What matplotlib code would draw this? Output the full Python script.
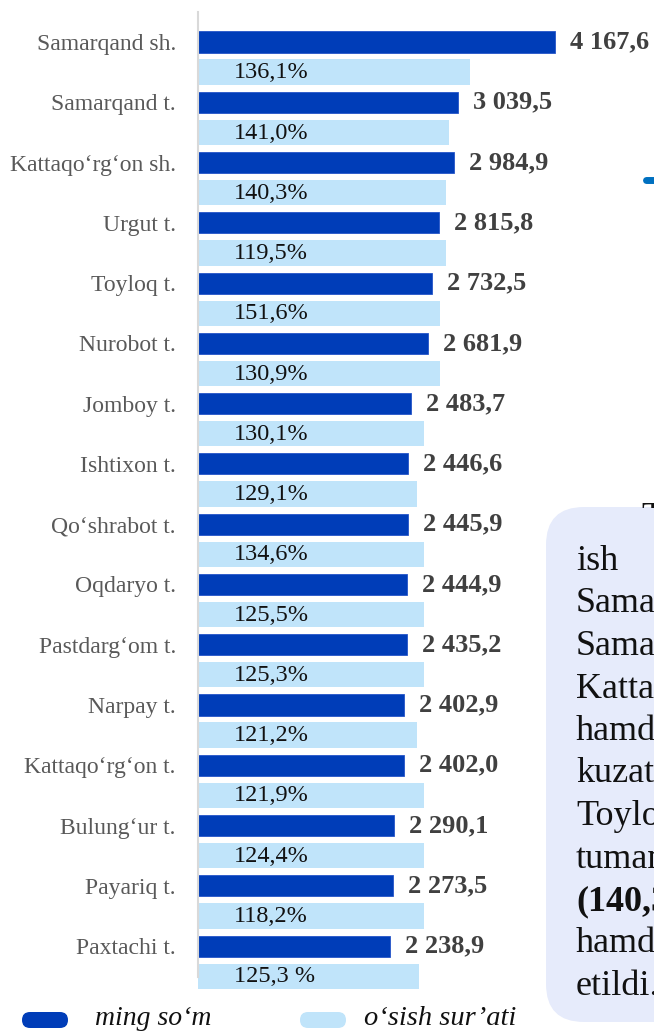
import matplotlib
matplotlib.use("Agg")
import matplotlib.pyplot as plt
from matplotlib.patches import FancyBboxPatch
from matplotlib.lines import Line2D
from matplotlib.transforms import IdentityTransform, Bbox
import numpy as np

plt.rcParams['font.family'] = ['Liberation Serif', 'DejaVu Serif']

# data
districts = ["Samarqand sh.", "Samarqand t.", "Kattaqo‘rg‘on sh.", "Urgut t.",
             "Toyloq t.", "Nurobot t.", "Jomboy t.", "Ishtixon t.",
             "Qo‘shrabot t.", "Oqdaryo t.", "Pastdarg‘om t.", "Narpay t.",
             "Kattaqo‘rg‘on t.", "Bulung‘ur t.", "Payariq t.", "Paxtachi t."]
ming_som = [4167.6, 3039.5, 2984.9, 2815.8, 2732.5, 2681.9, 2483.7, 2446.6,
            2445.9, 2444.9, 2435.2, 2402.9, 2402.0, 2290.1, 2273.5, 2238.9]
growth_labels = ["136,1%", "141,0%", "140,3%", "119,5%", "151,6%", "130,9%",
                 "130,1%", "129,1%", "134,6%", "125,5%", "125,3%", "121,2%",
                 "121,9%", "124,4%", "118,2%", "125,3 %"]
# the light bars in the source are not proportional to the %, lengths read off the image
growth_bar_len = [3175, 2930, 2895, 2895, 2825, 2825, 2638, 2557,
                  2638, 2638, 2638, 2557, 2638, 2638, 2638, 2580]

legend_labels = ["ming so‘m", "o‘sish sur’ati"]
box_lines = ["ish", "Samarqand", "Samarqand", "Kattaqo‘rg‘on", "hamda",
             "kuzatildi.", "Toyloq", "tumanlarida", "(140,3%)", "hamda", "etildi."]

DARK = '#003DB8'
LIGHT = '#C0E4FA'

W, H = 654, 1031
fig = plt.figure(figsize=(W / 100, H / 100), dpi=100)

# axes placed in pixels: x axis starts at 198 px, rows every ~60.3 px
px_per_unit = 0.08566
row0, row_step = 42, 60.27
top_px, bot_px = 12, 990
ax = fig.add_axes([198 / W, (H - bot_px) / H, (W - 198) / W, (bot_px - top_px) / H])
ax.set_xlim(0, (W - 198) / px_per_unit)
ax.set_ylim((bot_px - row0) / row_step, (top_px - row0) / row_step)

y = np.arange(len(districts))
ax.barh(y, ming_som, height=0.35, color=DARK, edgecolor='#2555c8', linewidth=0.6, zorder=2)
ax.barh(y + 0.5, growth_bar_len, height=0.42, color=LIGHT, linewidth=0, zorder=2)

for i in range(len(districts)):
    val = f"{ming_som[i]:,.1f}".replace(",", " ").replace(".", ",")
    ax.text(ming_som[i] + 15 / px_per_unit, y[i], val, ha='left', va='center',
            fontsize=19, fontweight='bold', color='#404040')
    ax.text(36 / px_per_unit, y[i] + 0.51, growth_labels[i], ha='left', va='center',
            fontsize=17.5, color='#111111', zorder=3)

ax.set_yticks(y)
ax.set_yticklabels(districts, fontsize=17, color='#595959')
ax.tick_params(axis='y', length=0, pad=16)
ax.set_xticks([])
for s in ax.spines.values():
    s.set_visible(False)
ax.plot([0, 0], [(top_px - row0) / row_step, 15.51], color='#D9D9D9', lw=1.5,
        zorder=4, clip_on=False)

# legend drawn by hand (rounded pills)
px = IdentityTransform()
for x0, col, tx, lab, fs in [(22, DARK, 95, legend_labels[0], 20),
                             (300, LIGHT, 364, legend_labels[1], 20.5)]:
    fig.add_artist(FancyBboxPatch((x0, H - 1028), 46, 16,
                                  boxstyle="round,pad=0,rounding_size=8",
                                  facecolor=col, edgecolor='none', transform=px))
    fig.text(tx, H - 1025, lab, transform=px, fontsize=fs, style='italic',
             va='baseline', ha='left', color='#111111')

# text box on the right, cut off by the figure edge
t_top = fig.text(641, H - 527, "T", transform=px, fontsize=26, va='baseline',
                 ha='left', color='#111111')
t_top.set_clip_box(Bbox.from_extents(600, H - 508, 700, H))
t_top.set_clip_on(True)

box = FancyBboxPatch((546, H - 1022), 300, 515,
                     boxstyle="round,pad=0,rounding_size=38",
                     facecolor='#E6EBFB', edgecolor='none', transform=px)
fig.add_artist(box)
for k, line in enumerate(box_lines):
    fig.text(576, H - (570 + 42.5 * k), line, transform=px, fontsize=26,
             va='baseline', ha='left', color='#111111',
             fontweight='bold' if line.startswith('(') else 'normal')

# small blue dash at the right edge
fig.add_artist(Line2D([646, 700], [H - 179.5, H - 179.5], color='#0070C0', lw=5,
                      solid_capstyle='round', transform=px))

fig.savefig("out.png", dpi=100)
